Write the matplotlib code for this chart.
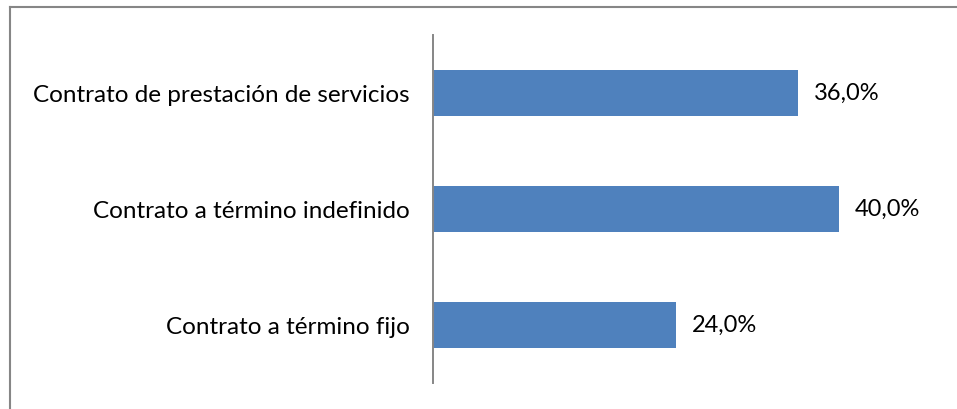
import matplotlib.pyplot as plt
from matplotlib.lines import Line2D

plt.rcParams['font.family'] = ['Lato', 'DejaVu Sans']

categorias = ["Contrato a término fijo",
              "Contrato a término indefinido",
              "Contrato de prestación de servicios"]
porcentajes = [24.0, 40.0, 36.0]
etiquetas = ["24,0%", "40,0%", "36,0%"]

W, H = 957, 409
fig = plt.figure(figsize=(W / 100, H / 100), dpi=100)
ax = fig.add_axes([433 / W, 26 / H, 507 / W, 348 / H])

bars = ax.barh(categorias, porcentajes, height=0.4, color="#4F81BD")
ax.set_xlim(0, 50)
ax.set_ylim(-0.5, 2.5)

for b, txt in zip(bars, etiquetas):
    ax.annotate(txt, (b.get_width(), b.get_y() + b.get_height() / 2),
                xytext=(11.5, 0), textcoords="offset points",
                va="center", ha="left", fontsize=17, color="#000000")

for s in ["top", "right", "bottom"]:
    ax.spines[s].set_visible(False)
ax.spines["left"].set_color("#868686")
ax.spines["left"].set_linewidth(1.4)
ax.set_xticks([])
ax.tick_params(axis="y", length=0, pad=17, labelsize=17.5)

# marco del gráfico (solo se ven los bordes superior e izquierdo)
fig.add_artist(Line2D([9.5 / W, 9.5 / W], [0, 1 - 6.5 / H],
                      transform=fig.transFigure, color="#868686", lw=1.5))
fig.add_artist(Line2D([9.5 / W, 1], [1 - 6.5 / H, 1 - 6.5 / H],
                      transform=fig.transFigure, color="#868686", lw=1.5))

fig.savefig("out.png", dpi=100)
